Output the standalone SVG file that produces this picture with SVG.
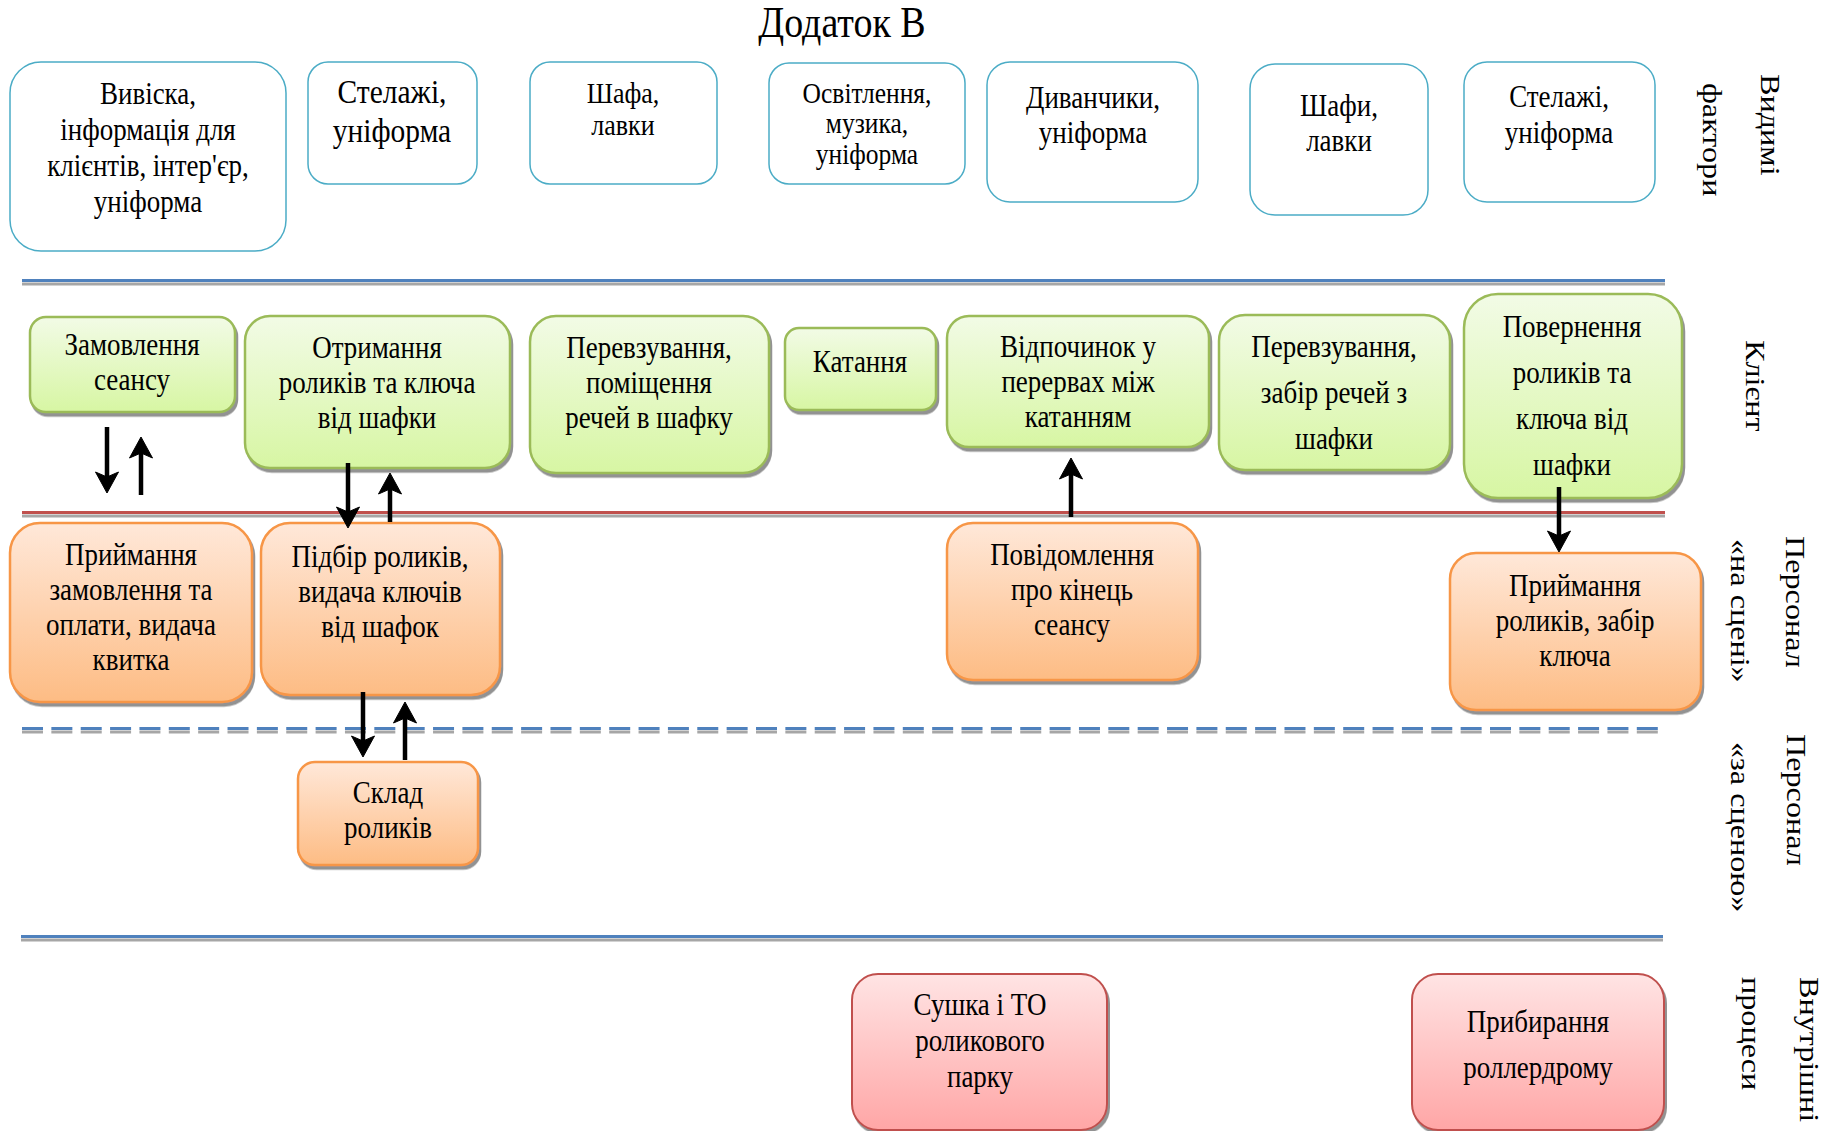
<svg xmlns="http://www.w3.org/2000/svg" width="1838" height="1131" viewBox="0 0 1838 1131">
<style>
.t{font-family:"Liberation Serif","Times New Roman",serif;font-size:27px;text-anchor:middle;fill:#000}
.side{font-family:"Liberation Serif","Times New Roman",serif;font-size:28px;fill:#000}
.vis{fill:#fff;stroke:#4BACC6;stroke-width:1.5}
.cl{fill:url(#gG);stroke:#9BBB59;stroke-width:2.5;filter:url(#sh)}
.st{fill:url(#gO);stroke:#F79646;stroke-width:2.5;filter:url(#sh)}
.ip{fill:url(#gR);stroke:#C0504D;stroke-width:2;filter:url(#sh)}
.arr{stroke:#000;stroke-width:4.5;fill:none;marker-end:url(#ah)}
.shd{stroke:#A6A6A6;stroke-width:3;fill:none}
</style>
<defs>
<linearGradient id="gG" x1="0" y1="0" x2="0" y2="1"><stop offset="0" stop-color="#F2FBE6"/><stop offset="1" stop-color="#D7F6A3"/></linearGradient>
<linearGradient id="gO" x1="0" y1="0" x2="0" y2="1"><stop offset="0" stop-color="#FFE8D9"/><stop offset="1" stop-color="#FDBC84"/></linearGradient>
<linearGradient id="gR" x1="0" y1="0" x2="0" y2="1"><stop offset="0" stop-color="#FFE4E4"/><stop offset="1" stop-color="#FFA6A6"/></linearGradient>
<filter id="sh" x="-5%" y="-5%" width="115%" height="120%"><feDropShadow dx="2" dy="3.5" stdDeviation="0.6" flood-color="#7F7F7F" flood-opacity="0.85"/></filter>
<marker id="ah" markerUnits="userSpaceOnUse" markerWidth="40" markerHeight="40" viewBox="-20 -20 40 40" refX="0" refY="0" orient="auto"><path d="M13,0 L-8,-11.5 L-3,0 L-8,11.5 Z" fill="#000" stroke="#000" stroke-width="1" stroke-linejoin="round"/></marker>
</defs>

<text class="t" style="font-size:38px" transform="translate(842,37) scale(1,1.15)" x="0" y="0">Додаток В</text>

<g id="lanes">
<line class="shd" x1="22" y1="284" x2="1665" y2="284"/>
<line x1="22" y1="280.5" x2="1665" y2="280.5" stroke="#4F81BD" stroke-width="3"/>
<line class="shd" x1="22" y1="516" x2="1665" y2="516"/>
<line x1="22" y1="512.5" x2="1665" y2="512.5" stroke="#C0504D" stroke-width="3"/>
<line class="shd" x1="22" y1="732" x2="1658" y2="732" stroke-dasharray="21 8.36"/>
<line x1="22" y1="728.5" x2="1658" y2="728.5" stroke="#4F81BD" stroke-width="3" stroke-dasharray="21 8.36"/>
<line class="shd" x1="21" y1="940" x2="1663" y2="940"/>
<line x1="21" y1="936.5" x2="1663" y2="936.5" stroke="#4F81BD" stroke-width="3"/>
</g>

<g id="labels">
<text class="side" transform="translate(1761,74) scale(1,1.15) rotate(90)">Видимі</text>
<text class="side" transform="translate(1703,83) scale(1,1.15) rotate(90)">фактори</text>
<text class="side" transform="translate(1746,340) scale(1,1.15) rotate(90)">Клієнт</text>
<text class="side" transform="translate(1786,536) scale(1,1.15) rotate(90)">Персонал</text>
<text class="side" transform="translate(1731,539) scale(1,1.15) rotate(90)">«на сцені»</text>
<text class="side" transform="translate(1787,734) scale(1,1.15) rotate(90)">Персонал</text>
<text class="side" transform="translate(1731,742) scale(1,1.15) rotate(90)">«за сценою»</text>
<text class="side" transform="translate(1800,977) scale(1,1.15) rotate(90)">Внутрішні</text>
<text class="side" transform="translate(1742,977) scale(1,1.15) rotate(90)">процеси</text>
</g>

<g id="v1"><rect class="vis" x="10" y="62" width="276" height="189" rx="31"/>
<text class="t" transform="translate(148,104) scale(1,1.15)"><tspan x="0" y="0">Вивіска,</tspan><tspan x="0" y="31.3">інформація для</tspan><tspan x="0" y="62.6">клієнтів, інтер'єр,</tspan><tspan x="0" y="93.9">уніформа</tspan></text></g>
<g id="v2"><rect class="vis" x="308" y="62" width="169" height="122" rx="20"/>
<text class="t" style="font-size:29.5px" transform="translate(392,103) scale(1,1.15)"><tspan x="0" y="0">Стелажі,</tspan><tspan x="0" y="33.9">уніформа</tspan></text></g>
<g id="v3"><rect class="vis" x="530" y="62" width="187" height="122" rx="20"/>
<text class="t" style="font-size:26px" transform="translate(623,103) scale(1,1.15)"><tspan x="0" y="0">Шафа,</tspan><tspan x="0" y="28">лавки</tspan></text></g>
<g id="v4"><rect class="vis" x="769" y="63" width="196" height="121" rx="20"/>
<text class="t" style="font-size:25.5px" transform="translate(867,103) scale(1,1.15)"><tspan x="0" y="0">Освітлення,</tspan><tspan x="0" y="26.1">музика,</tspan><tspan x="0" y="53">уніформа</tspan></text></g>
<g id="v5"><rect class="vis" x="987" y="62" width="211" height="140" rx="23"/>
<text class="t" transform="translate(1093,108) scale(1,1.15)"><tspan x="0" y="0">Диванчики,</tspan><tspan x="0" y="30.4">уніформа</tspan></text></g>
<g id="v6"><rect class="vis" x="1250" y="64" width="178" height="151" rx="25"/>
<text class="t" transform="translate(1339,116) scale(1,1.15)"><tspan x="0" y="0">Шафи,</tspan><tspan x="0" y="30.4">лавки</tspan></text></g>
<g id="v7"><rect class="vis" x="1464" y="62" width="191" height="140" rx="23"/>
<text class="t" transform="translate(1559,107) scale(1,1.15)"><tspan x="0" y="0">Стелажі,</tspan><tspan x="0" y="31.3">уніформа</tspan></text></g>

<g id="c1"><rect class="cl" x="30" y="317" width="205" height="95" rx="16"/>
<text class="t" transform="translate(132,355) scale(1,1.15)"><tspan x="0" y="0">Замовлення</tspan><tspan x="0" y="30.4">сеансу</tspan></text></g>
<g id="c2"><rect class="cl" x="245" y="316" width="265" height="152" rx="25"/>
<text class="t" transform="translate(377,358) scale(1,1.15)"><tspan x="0" y="0">Отримання</tspan><tspan x="0" y="30.4">роликів та ключа</tspan><tspan x="0" y="60.9">від шафки</tspan></text></g>
<g id="c3"><rect class="cl" x="530" y="316" width="239" height="157" rx="26"/>
<text class="t" transform="translate(649,358) scale(1,1.15)"><tspan x="0" y="0">Перевзування,</tspan><tspan x="0" y="30.4">поміщення</tspan><tspan x="0" y="60.9">речей в шафку</tspan></text></g>
<g id="c4"><rect class="cl" x="785" y="328" width="151" height="82" rx="14"/>
<text class="t" transform="translate(860,372) scale(1,1.15)"><tspan x="0" y="0">Катання</tspan></text></g>
<g id="c5"><rect class="cl" x="947" y="316" width="262" height="131" rx="22"/>
<text class="t" transform="translate(1078,357) scale(1,1.15)"><tspan x="0" y="0">Відпочинок у</tspan><tspan x="0" y="30.4">перервах між</tspan><tspan x="0" y="60.9">катанням</tspan></text></g>
<g id="c6"><rect class="cl" x="1219" y="315" width="231" height="155" rx="26"/>
<text class="t" transform="translate(1334,357) scale(1,1.15)"><tspan x="0" y="0">Перевзування,</tspan><tspan x="0" y="40">забір речей з</tspan><tspan x="0" y="80">шафки</tspan></text></g>
<g id="c7"><rect class="cl" x="1464" y="294" width="218" height="204" rx="34"/>
<text class="t" transform="translate(1572,337) scale(1,1.15)"><tspan x="0" y="0">Повернення</tspan><tspan x="0" y="40">роликів та</tspan><tspan x="0" y="80">ключа від</tspan><tspan x="0" y="120">шафки</tspan></text></g>

<g id="s1"><rect class="st" x="10" y="523" width="242" height="179" rx="30"/>
<text class="t" transform="translate(131,565) scale(1,1.15)"><tspan x="0" y="0">Приймання</tspan><tspan x="0" y="30.4">замовлення та</tspan><tspan x="0" y="60.9">оплати, видача</tspan><tspan x="0" y="91.3">квитка</tspan></text></g>
<g id="s2"><rect class="st" x="261" y="523" width="239" height="172" rx="29"/>
<text class="t" transform="translate(380,567) scale(1,1.15)"><tspan x="0" y="0">Підбір роликів,</tspan><tspan x="0" y="30.4">видача ключів</tspan><tspan x="0" y="60.9">від шафок</tspan></text></g>
<g id="s3"><rect class="st" x="947" y="523" width="251" height="157" rx="26"/>
<text class="t" transform="translate(1072,565) scale(1,1.15)"><tspan x="0" y="0">Повідомлення</tspan><tspan x="0" y="30.4">про кінець</tspan><tspan x="0" y="60.9">сеансу</tspan></text></g>
<g id="s4"><rect class="st" x="1450" y="553" width="251" height="157" rx="26"/>
<text class="t" transform="translate(1575,596) scale(1,1.15)"><tspan x="0" y="0">Приймання</tspan><tspan x="0" y="30.4">роликів, забір</tspan><tspan x="0" y="60.9">ключа</tspan></text></g>

<g id="b1"><rect class="st" x="298" y="762" width="180" height="103" rx="17"/>
<text class="t" transform="translate(388,803) scale(1,1.15)"><tspan x="0" y="0">Склад</tspan><tspan x="0" y="30.4">роликів</tspan></text></g>

<g id="p1"><rect class="ip" x="852" y="974" width="255" height="156" rx="26"/>
<text class="t" transform="translate(980,1015) scale(1,1.15)"><tspan x="0" y="0">Сушка і ТО</tspan><tspan x="0" y="31.3">роликового</tspan><tspan x="0" y="62.6">парку</tspan></text></g>
<g id="p2"><rect class="ip" x="1412" y="974" width="252" height="156" rx="26"/>
<text class="t" transform="translate(1538,1032) scale(1,1.15)"><tspan x="0" y="0">Прибирання</tspan><tspan x="0" y="40">роллердрому</tspan></text></g>

<g id="connectors">
<line class="arr" x1="107" y1="427" x2="107" y2="480"/>
<line class="arr" x1="141" y1="495" x2="141" y2="450"/>
<line class="arr" x1="348" y1="463" x2="348" y2="515"/>
<line class="arr" x1="390" y1="522" x2="390" y2="486"/>
<line class="arr" x1="363" y1="692" x2="363" y2="744"/>
<line class="arr" x1="405" y1="760" x2="405" y2="715"/>
<line class="arr" x1="1071" y1="517" x2="1071" y2="471"/>
<line class="arr" x1="1559" y1="487" x2="1559" y2="539"/>
</g>
</svg>
